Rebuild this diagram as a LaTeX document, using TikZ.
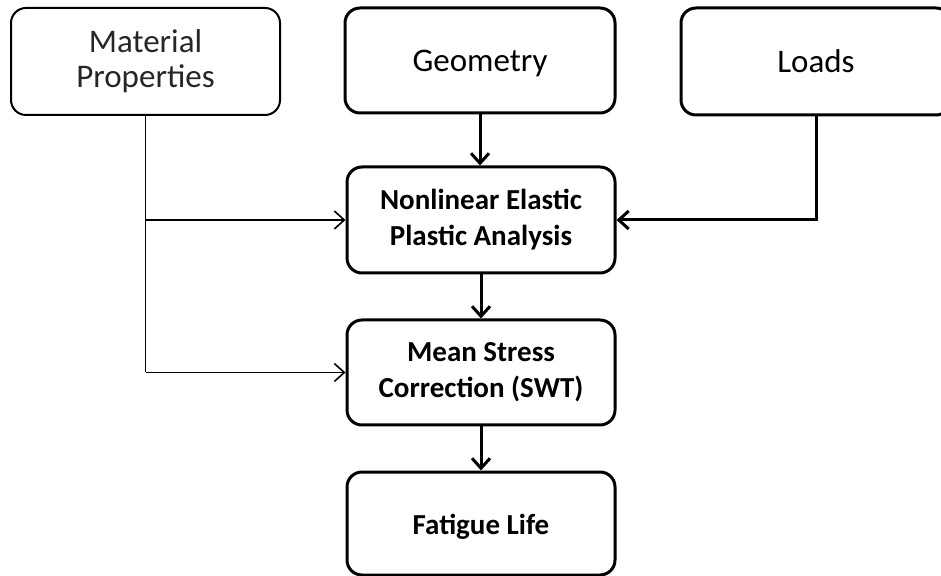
\documentclass[tikz,border=0pt]{standalone}
\usepackage{fontspec}
\setmainfont{Carlito}
\usetikzlibrary{arrows.meta}
\tikzset{
  block/.style={draw, rounded corners=7.5pt, line width=1.5pt, minimum width=134pt,
    minimum height=53pt, inner sep=0pt, align=center,
    font=\fontsize{14.5}{18}\selectfont\bfseries},
  topblock/.style={block, font=\fontsize{16.5}{17.5}\selectfont},
  oneline/.style={text height=10.6pt, text depth=0pt},
  arr/.style={-{Straight Barb[length=5pt,width=9pt]}, line width=1.5pt},
}

\begin{document}
\begin{tikzpicture}[x=0.5pt, y=-0.5pt]
            \clip (0,0) rectangle (941,576);
            % Inputs
            \node[topblock, line width=1pt, text=black!85, minimum width=134.5pt, minimum height=53.5pt] (mat) at (145.5,61.5) {Material\\Properties};
            \node[topblock, oneline, minimum width=135pt, minimum height=52.5pt] (geo) at (480,60.5) {Geometry};
            \node[topblock, oneline, minimum width=135pt, minimum height=53.5pt] (loads) at (816,61.5) {Loads};

            % Analysis chain
            \node[block] (nea) at (481,220) {Nonlinear Elastic\\Plastic Analysis};
            \node[block, minimum height=52.5pt] (msc) at (481,372.5) {Mean Stress\\Correction (SWT)};
            \node[block, oneline, minimum height=51.5pt] (fat) at (481,523.5) {Fatigue Life};

            % Material branches
            \coordinate (matA) at (mat.south |- nea.west);
            \coordinate (matB) at (mat.south |- msc.west);
            \draw[line width=0.8pt] (mat.south) -- (matB);
            \draw[arr, line width=0.8pt] (matA) -- (nea.west);
            \draw[arr, line width=0.8pt] (matB) -- (msc.west);

            % Flow
            \draw[arr] (geo.south) -- (geo.south |- nea.north);
            \draw[arr] (loads.south) |- (nea.east);
            \draw[arr] (nea.south) -- (msc.north);
            \draw[arr] (msc.south) -- (fat.north);
        \end{tikzpicture}
\end{document}
